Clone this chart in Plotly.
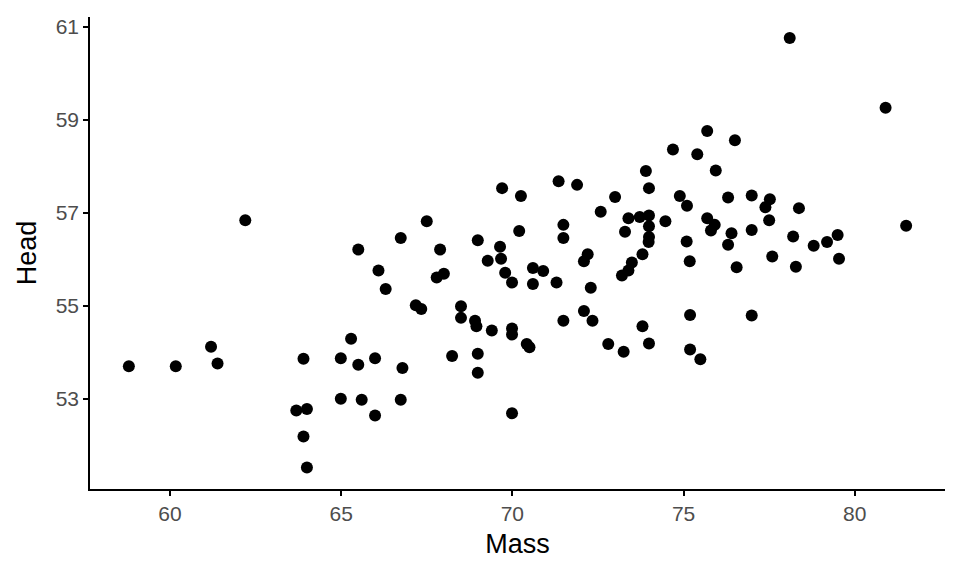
import plotly.graph_objects as go

mass = [58.80, 60.17, 61.20, 61.39, 63.90, 63.69, 64.00, 63.90, 64.00, 62.20,
        67.50, 66.74, 65.50, 66.09, 67.79, 68.00, 66.30, 67.18, 67.34, 65.29,
        64.99, 65.50, 65.99, 66.79, 64.99, 65.60, 66.74, 65.99, 67.89, 68.50,
        68.50, 68.91, 68.95, 69.40, 69.99, 69.99, 68.24, 68.99, 68.99, 69.99,
        70.20, 68.99, 69.64, 69.67, 69.28, 69.79, 69.99, 73.90, 73.99, 71.35,
        71.89, 69.70, 70.25, 73.00, 72.58, 73.39, 73.72, 73.99, 74.47, 73.99,
        73.29, 71.49, 71.49, 73.99, 73.98, 73.80, 72.20, 72.09, 73.49, 73.39,
        73.20, 70.60, 70.90, 70.60, 71.29, 72.29, 70.42, 70.50, 71.49, 72.09,
        72.34, 73.80, 73.99, 72.80, 73.25, 75.69, 76.50, 74.69, 75.40, 75.94,
        74.89, 75.10, 76.30, 76.99, 77.52, 77.39, 78.37, 75.69, 75.91, 75.80,
        77.50, 76.40, 76.30, 76.99, 78.20, 75.09, 75.18, 76.55, 77.59, 78.28,
        75.19, 76.99, 75.19, 75.49, 78.10, 80.90, 78.80, 79.19, 79.50, 81.50,
        79.54]

head = [53.70, 53.70, 54.12, 53.76, 53.86, 52.75, 52.78, 52.19, 51.52, 56.84,
        56.82, 56.46, 56.21, 55.76, 55.61, 55.69, 55.36, 55.01, 54.93, 54.29,
        53.87, 53.73, 53.87, 53.66, 53.00, 52.98, 52.98, 52.64, 56.21, 54.99,
        54.74, 54.68, 54.56, 54.47, 54.51, 54.38, 53.92, 53.97, 53.56, 52.69,
        56.61, 56.41, 56.27, 56.01, 55.97, 55.71, 55.50, 57.90, 57.53, 57.68,
        57.60, 57.53, 57.36, 57.34, 57.02, 56.88, 56.91, 56.94, 56.82, 56.71,
        56.59, 56.74, 56.46, 56.48, 56.37, 56.11, 56.11, 55.96, 55.93, 55.76,
        55.65, 55.81, 55.75, 55.47, 55.50, 55.39, 54.18, 54.11, 54.68, 54.89,
        54.68, 54.56, 54.19, 54.18, 54.01, 58.76, 58.56, 58.36, 58.26, 57.91,
        57.36, 57.15, 57.33, 57.37, 57.29, 57.12, 57.10, 56.88, 56.74, 56.62,
        56.84, 56.56, 56.31, 56.63, 56.49, 56.38, 55.96, 55.83, 56.06, 55.84,
        54.80, 54.79, 54.06, 53.85, 60.76, 59.26, 56.29, 56.37, 56.52, 56.72,
        56.01]

x_ticks = [60, 65, 70, 75, 80]
y_ticks = [53, 55, 57, 59, 61]

fig = go.Figure(go.Scatter(
    x=mass, y=head, mode="markers",
    marker=dict(color="black", size=12, line=dict(width=0)),
    hoverinfo="x+y",
))

FONT = "Liberation Sans, Arial, sans-serif"
axis_common = dict(
    showgrid=False, zeroline=False, showline=True, linecolor="black",
    linewidth=1.6, ticks="outside", ticklen=5, tickwidth=1.6, tickcolor="black",
    tickfont=dict(family=FONT, size=21, color="#4D4D4D"),
    title_font=dict(family=FONT, size=27, color="black"),
)

fig.update_layout(
    width=952, height=568,
    margin=dict(l=82, r=15, t=7, b=87),
    paper_bgcolor="white", plot_bgcolor="white",
    showlegend=False,
    xaxis=dict(range=[57.665, 82.635], tickvals=x_ticks, title_text="Mass",
               title_standoff=10, **axis_common),
    yaxis=dict(range=[51.06, 61.21], tickvals=y_ticks, title_text="Head",
               title_standoff=11, **axis_common),
)

fig.write_html("out.html")
